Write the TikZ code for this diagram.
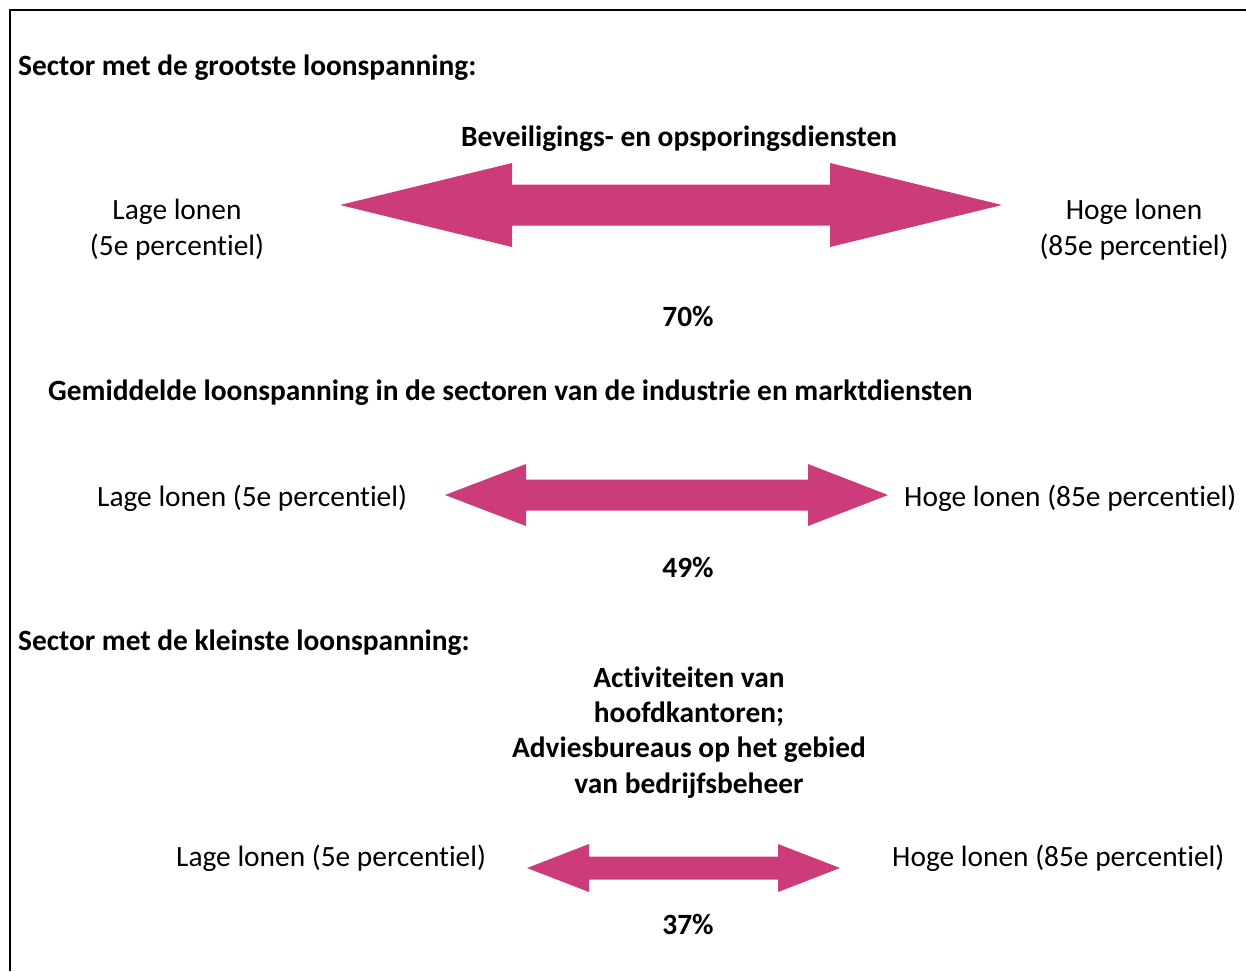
\documentclass[tikz,border=0pt]{standalone}
\usepackage{fontspec}
\setmainfont{Carlito}[Ligatures={NoCommon}]
\definecolor{loonroze}{RGB}{204,60,122}
\tikzset{
  txt/.style={font=\fontsize{29.4}{35.3}\selectfont, inner sep=0pt},
  vet/.style={font=\fontsize{29.4}{35.3}\selectfont\bfseries, inner sep=0pt},
  pijl/.style={fill=loonroze}
}
\begin{document}
\begin{tikzpicture}[x=1pt,y=-1pt]
  \useasboundingbox (0,0) rectangle (1246,971);
  \draw[line width=2pt] (9.5,971) -- (9.5,10) -- (1246,10);
  % grootste loonspanning
  \node[vet,anchor=base west] (kopA) at (18,76) {Sector met de grootste loonspanning:};
  \node[vet,anchor=base] (sectorA) at (679,146) {Beveiligings- en opsporingsdiensten};
  \node[txt,anchor=base,align=center] (lageA) at (177,255) {Lage lonen\\(5e percentiel)};
  \node[txt,anchor=base,align=center] (hogeA) at (1134,255) {Hoge lonen\\(85e percentiel)};
  \fill[pijl] (340,205) -- (512,163) -- (512,184.5) -- (830,184.5) -- (830,163)
    -- (1002,205) -- (830,247) -- (830,225.5) -- (512,225.5) -- (512,247) -- cycle;
  \node[vet,anchor=base] (pctA) at (688,326) {70\%};
  % gemiddelde
  \node[vet,anchor=base west] (kopB) at (48,400) {Gemiddelde loonspanning in de sectoren van de industrie en marktdiensten};
  \node[txt,anchor=base west] (lageB) at (97,506) {Lage lonen (5e percentiel)};
  \node[txt,anchor=base west] (hogeB) at (904,506) {Hoge lonen (85e percentiel)};
  \fill[pijl] (445,495) -- (526,464) -- (526,479.5) -- (808,479.5) -- (808,464)
    -- (888,495) -- (808,526) -- (808,510.5) -- (526,510.5) -- (526,526) -- cycle;
  \node[vet,anchor=base] (pctB) at (688,577) {49\%};
  % kleinste loonspanning
  \node[vet,anchor=base west] (kopC) at (18,650) {Sector met de kleinste loonspanning:};
  \node[vet,anchor=base,align=center] (sectorC) at (689,793)
    {Activiteiten van\\hoofdkantoren;\\Adviesbureaus op het gebied\\van bedrijfsbeheer};
  \node[txt,anchor=base west] (lageC) at (176,866) {Lage lonen (5e percentiel)};
  \node[txt,anchor=base west] (hogeC) at (892,866) {Hoge lonen (85e percentiel)};
  \fill[pijl] (527,868) -- (589,844) -- (589,856.5) -- (778,856.5) -- (778,844)
    -- (840,868) -- (778,892) -- (778,879.5) -- (589,879.5) -- (589,892) -- cycle;
  \node[vet,anchor=base] (pctC) at (688,934) {37\%};
\end{tikzpicture}
\end{document}
